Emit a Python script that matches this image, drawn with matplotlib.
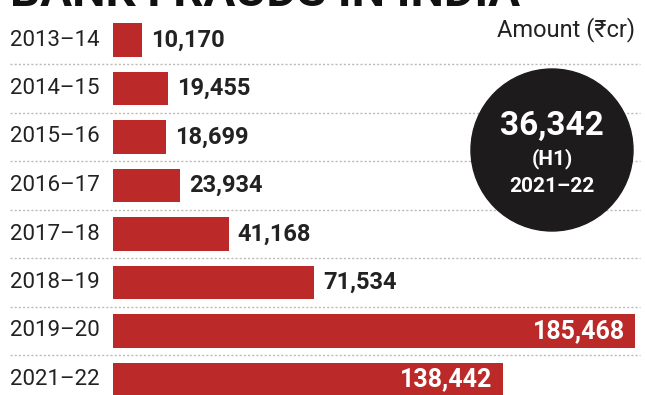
import matplotlib
matplotlib.use("Agg")
import matplotlib.pyplot as plt
from matplotlib.patches import Ellipse
from matplotlib import font_manager

# data
years = ["2013-14", "2014-15", "2015-16", "2016-17", "2017-18", "2018-19", "2019-20", "2021-22"]
amounts = [10170, 19455, 18699, 23934, 41168, 71534, 185468, 138442]
inside = [False, False, False, False, False, False, True, True]
h1_value = "36,342"
h1_label = "(H1)"
h1_year = "2021-22"

names = {f.name for f in font_manager.fontManager.ttflist}
base = "Liberation Sans Narrow" if "Liberation Sans Narrow" in names else "Roboto"
plt.rcParams["font.family"] = [base, "DejaVu Sans"]

W, H = 645, 395
fig = plt.figure(figsize=(W / 100, H / 100), dpi=100)
ax = fig.add_axes([0, 0, 1, 1])

# pixel mapping: x0 at 113px, 185468 at 635px
sx = (635 - 113) / 185468
ax.set_xlim(-113 / sx, (W - 113) / sx)
y0, dy = 40, 48.5
ax.set_ylim((H - y0) / dy, -y0 / dy)
ax.axis("off")

red = "#bb2a29"
ypos = list(range(len(years)))
ax.barh(ypos, amounts, height=0.69, color=red, zorder=2)

for i, (yr, v, ins) in enumerate(zip(years, amounts, inside)):
    ax.text(-103 / sx, i, yr.replace("-", "\u2013"), ha="left", va="center",
            fontsize=16, color="#222222")
    lab = f"{v:,}"
    if ins:
        ax.text(v - 10 / sx, i, lab, ha="right", va="center", fontsize=18,
                fontweight="bold", color="white", zorder=3)
    else:
        ax.text(v + 9 / sx, i, lab, ha="left", va="center", fontsize=17,
                fontweight="bold", color="#222222", zorder=3)

# dotted separators
for i in range(len(years) - 1):
    ax.plot([-103 / sx, (W - 5 - 113) / sx], [i + 0.5, i + 0.5], color="#bbbbbb",
            lw=1.0, ls=(0, (1.5, 1.5)), zorder=1)

# circle callout
circ = Ellipse((552 / W, 1 - 150 / H), 162 / W, 162 / H, transform=ax.transAxes,
               color="#1d1b1b", zorder=4)
ax.add_patch(circ)
ax.text(552 / W, 1 - 126 / H, h1_value, transform=ax.transAxes, ha="center", va="center",
        fontsize=24, fontweight="bold", color="white", zorder=5)
ax.text(552 / W, 1 - 159 / H, h1_label, transform=ax.transAxes, ha="center", va="center",
        fontsize=15, fontweight="bold", color="white", zorder=5)
ax.text(552 / W, 1 - 186 / H, h1_year.replace("-", "\u2013"), transform=ax.transAxes,
        ha="center", va="center", fontsize=15, fontweight="bold", color="white", zorder=5)

ax.text(635 / W, 1 - 30 / H, "Amount (\u20b9cr)", transform=ax.transAxes, ha="right",
        va="center", fontsize=17, color="#222222")

# title, cut off at the top edge as in the source image
fig.text(10 / W, 1 - 6 / H, "BANK FRAUDS IN INDIA", ha="left", va="baseline",
         fontsize=34, fontweight="bold", color="#111111")

fig.savefig("out.png", dpi=100, facecolor="white")
